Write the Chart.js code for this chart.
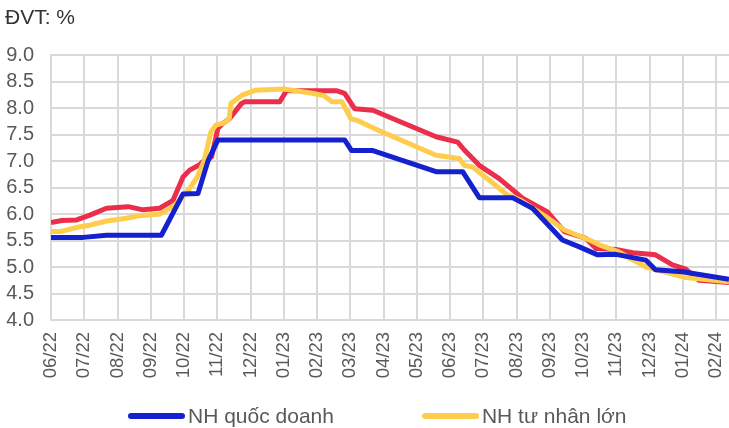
<!DOCTYPE html>
<html>
<head>
<meta charset="utf-8">
<script src="https://cdn.jsdelivr.net/npm/chart.js@4.4.1/dist/chart.umd.min.js"></script>
<style>
    body { margin: 0; background: #fff; }
    #wrap { position: relative; width: 729px; height: 428px; overflow: hidden; }
    #legend {
        position: absolute; left: 128px; top: 404px;
        display: flex; gap: 88px;
        font: 21px "Liberation Sans", Arial, sans-serif; color: #595959;
    }
    #legend .item { display: flex; align-items: center; }
    #legend .swatch { width: 57px; height: 6px; border-radius: 3px; margin-right: 3px; }
</style>
</head>
<body>
<div id="wrap">
    <canvas id="lineChart" width="729" height="428"></canvas>
    <div id="legend"></div>
</div>
<script>
// tick labels (months from 06/22)
const monthLabels = ['06/22', '07/22', '08/22', '09/22', '10/22', '11/22', '12/22',
    '01/23', '02/23', '03/23', '04/23', '05/23', '06/23', '07/23', '08/23', '09/23',
    '10/23', '11/23', '12/23', '01/24', '02/24'];

// NH quốc doanh : time (months after 06/22) and rate
const qdTime = [0, 0.97, 1.67, 3.32, 3.97, 4.42, 4.72, 5.02, 8.83, 9.04, 9.68, 11.58, 12.38,
    12.88, 13.88, 14.48, 15.38, 15.89, 16.44, 16.99, 17.89, 18.18, 18.99, 20.39];
const qdRate = [5.56, 5.56, 5.6, 5.6, 6.38, 6.39, 7.0, 7.4, 7.4, 7.2, 7.2, 6.8, 6.8,
    6.31, 6.31, 6.11, 5.51, 5.38, 5.23, 5.24, 5.13, 4.95, 4.91, 4.77];

// NH tư nhân lớn
const tnTime = [0, 0.27, 0.87, 1.17, 1.67, 2.27, 2.67, 3.27, 3.67, 4.08, 4.4, 4.6, 4.66, 4.81,
    4.96, 5.2, 5.36, 5.41, 5.76, 6.16, 7.0, 7.85, 8.2, 8.45, 8.75, 9.02, 9.2, 9.86, 11.58,
    12.28, 12.43, 12.68, 13.18, 13.73, 14.13, 14.89, 15.44, 16.19, 16.49, 17.09, 17.89,
    19.09, 20.39];
const tnRate = [5.67, 5.67, 5.76, 5.79, 5.87, 5.92, 5.97, 6.0, 6.14, 6.4, 6.7, 7.0, 7.15, 7.55,
    7.68, 7.72, 7.8, 8.09, 8.25, 8.34, 8.36, 8.28, 8.24, 8.12, 8.12, 7.8, 7.77, 7.58, 7.11,
    7.05, 6.92, 6.89, 6.64, 6.36, 6.26, 5.95, 5.7, 5.51, 5.42, 5.28, 5.0,
    4.8, 4.72];

// third group (its legend entry is cut off in the picture)
const khacTime = [0, 0.33, 0.77, 1.17, 1.67, 2.32, 2.77, 3.27, 3.67, 3.97, 4.17, 4.47, 4.72,
    4.83, 5.02, 5.17, 5.38, 5.73, 5.83, 6.88, 7.08, 8.58, 8.83, 9.13, 9.68, 11.58, 12.23,
    12.43, 12.88, 13.48, 14.18, 14.93, 15.44, 16.09, 16.39, 16.99, 17.49, 18.18, 18.69,
    19.09, 19.49, 20.39];
const khacRate = [5.84, 5.88, 5.89, 5.98, 6.11, 6.14, 6.08, 6.11, 6.26, 6.7, 6.83, 6.93, 7.08,
    7.08, 7.62, 7.71, 7.81, 8.09, 8.12, 8.12, 8.33, 8.33, 8.28, 7.99, 7.96, 7.46, 7.36,
    7.21, 6.92, 6.67, 6.3, 6.04, 5.67, 5.54, 5.35, 5.33, 5.27, 5.23, 5.04,
    4.96, 4.75, 4.71];

const toPoints = (t, v) => t.map((x, i) => ({ x: x, y: v[i] }));

const gridColor = '#d9d9d9';
Chart.defaults.font.family = '"Liberation Sans", Arial, sans-serif';
Chart.defaults.color = '#595959';

const series = [
    { label: 'NH quốc doanh', data: toPoints(qdTime, qdRate), color: '#1520cf', legend: true },
    { label: 'NH tư nhân lớn', data: toPoints(tnTime, tnRate), color: '#ffcd4d', legend: true },
    { label: 'NH khác', data: toPoints(khacTime, khacRate), color: '#eb2e4b', legend: false }
];

const chart = new Chart(document.getElementById('lineChart'), {
    type: 'line',
    data: {
        datasets: series.map(s => ({
            label: s.label,
            data: s.data,
            borderColor: s.color,
            backgroundColor: s.color,
            borderWidth: 5,
            borderJoinStyle: 'round',
            pointRadius: 0,
            tension: 0
        }))
    },
    options: {
        responsive: false,
        animation: false,
        layout: { padding: { left: 5, right: 0, top: 0, bottom: 48 } },
        plugins: {
            legend: { display: false },
            tooltip: { enabled: false },
            title: {
                display: true,
                text: 'ĐVT: %',
                align: 'start',
                color: '#333333',
                font: { size: 21, weight: 'normal' },
                padding: { top: 6, bottom: 24 }
            }
        },
        scales: {
            x: {
                type: 'linear',
                min: 0,
                max: 20.39,
                afterFit: s => { s.height = 60; s.paddingLeft = 0; s.paddingRight = 0; },
                grid: { color: gridColor, lineWidth: 2, drawTicks: false },
                border: { color: gridColor, width: 2 },
                ticks: {
                    stepSize: 1,
                    includeBounds: false,
                    autoSkip: false,
                    minRotation: 90,
                    maxRotation: 90,
                    padding: 12,
                    font: { size: 18.5 },
                    callback: v => monthLabels[v]
                }
            },
            y: {
                min: 4,
                max: 9,
                afterFit: s => { s.width = 46; s.paddingTop = 0; s.paddingBottom = 0; },
                grid: { color: gridColor, lineWidth: 2, drawTicks: false },
                border: { color: gridColor, width: 2 },
                ticks: {
                    stepSize: 0.5,
                    autoSkip: false,
                    padding: 17,
                    font: { size: 20 },
                    callback: v => v.toFixed(1)
                }
            }
        }
    }
});

// simple legend from the datasets
const legendEl = document.getElementById('legend');
series.filter(s => s.legend).forEach(s => {
    const item = document.createElement('div');
    item.className = 'item';
    item.innerHTML = '<span class="swatch" style="background:' + s.color + '"></span><span>' + s.label + '</span>';
    legendEl.appendChild(item);
});
</script>
</body>
</html>
